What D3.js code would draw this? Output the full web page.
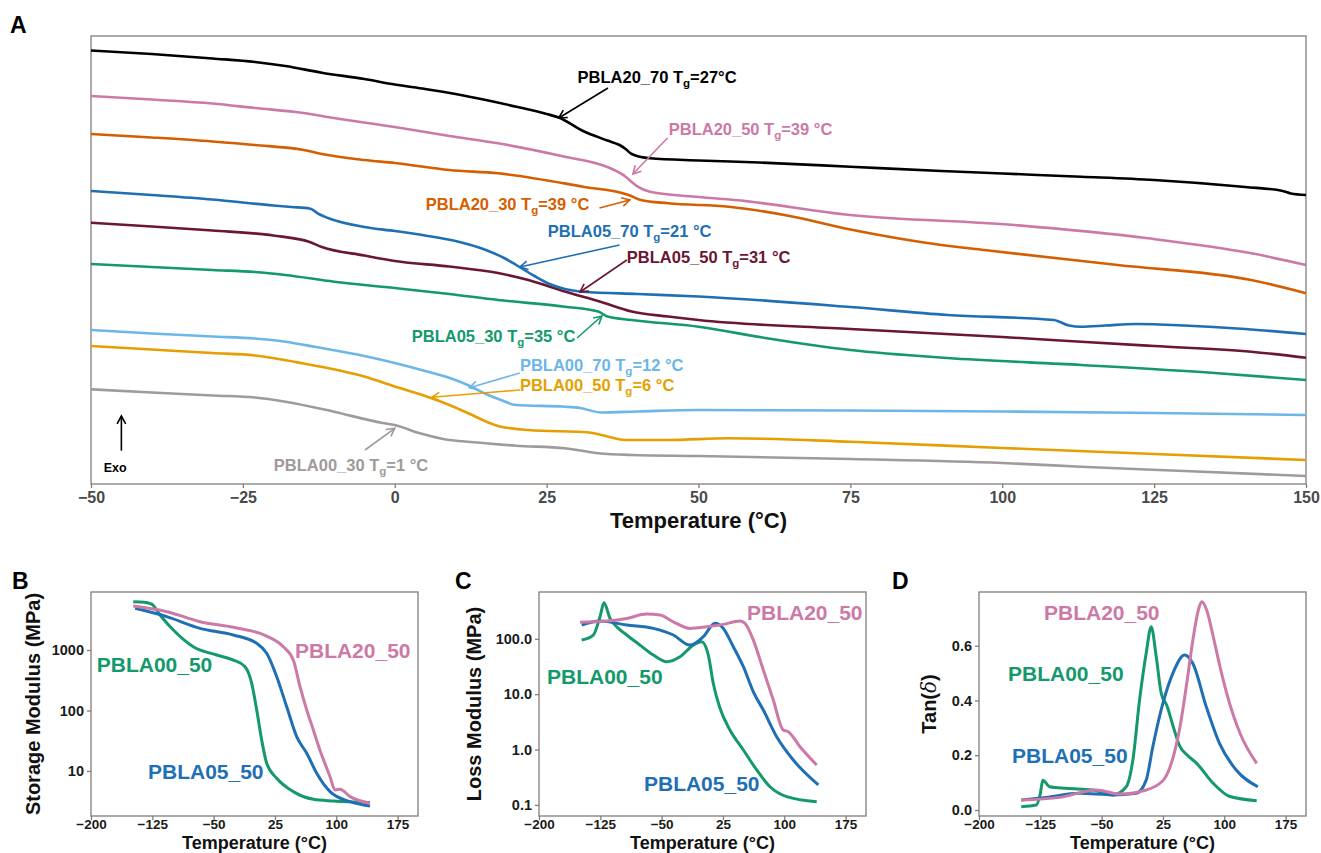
<!DOCTYPE html>
<html><head><meta charset="utf-8">
<script src="https://cdn.jsdelivr.net/npm/d3@7"></script>
<style>body{margin:0;background:#fff}</style>
</head><body>
<svg id="c" width="1321" height="853"></svg>
<script>
// ---------------- DATA ----------------
// Panel A: DSC traces, [temperature °C, heat flow (a.u., offset)]
const seriesNames = ["PBLA20_70","PBLA20_50","PBLA20_30","PBLA05_70","PBLA05_50","PBLA05_30","PBLA00_70","PBLA00_50","PBLA00_30"];
const tgValues = [27,39,39,21,31,35,12,6,1];
const tgSuffix = ["=27°C","=39 °C","=39 °C","=21 °C","=31 °C","=35 °C","=12 °C","=6 °C","=1 °C"];

const dsc_PBLA20_70 = [[-50,433.5],[-40,430],[-30,425.5],[-23,422],[-18,418],[-12,411.3],[-5,405],[0,399.5],[5,395],[10,390],[15,384],[20,377.3],[25,370],[27,366.5],[31,353],[35,343.5],[37,339],[38,335],[39,330],[42,325.7],[50,323.5],[60,321.5],[75,317.3],[90,313],[100,310.5],[113,307.3],[125,304],[140,297],[146,293.3],[147.5,290.5],[150,289]];
const dsc_PBLA20_50 = [[-50,388],[-40,384.5],[-30,380.5],[-23,376],[-15,371],[-10,366],[0,357],[9,348],[17,340.7],[28,327.3],[35,317],[38,307.3],[39,302],[40,297.3],[42,292.3],[50,287],[56,284],[75,269],[102,259],[124,245.7],[141,230.7],[150,219]];
const dsc_PBLA20_30 = [[-50,350],[-40,346.5],[-30,342.5],[-23,339],[-15,334],[-12,330],[-5,324],[0,321],[9,314],[17,310.7],[31,297.3],[38.5,289],[40.5,284],[45,280.7],[55,277.3],[65,268],[75,254.5],[90,239],[97,234],[119,219],[141,204],[150,190.7]];
const dsc_PBLA05_70 = [[-50,293],[-40,289],[-30,284.5],[-20,278.5],[-17,277],[-14,275.5],[-12.5,270],[-11,266],[-5,257],[0,253],[5,248.5],[10,243],[15,234],[18,226],[20,219],[23,208],[25.5,200],[28,195],[31,192.3],[40,190],[50,187.5],[75,177],[91,169],[108.5,164],[109.5,162],[111,158.5],[113,157.3],[117,158.5],[122,160],[130,158.5],[140,155],[150,150]];
const dsc_PBLA05_50 = [[-50,261.3],[-40,257.5],[-30,253.5],[-20,248.5],[-14,242],[-12,237],[-5,228.5],[0,223],[9,217.5],[17,211],[22,204],[28,192.5],[34,182],[39,172.5],[45,167.5],[50,164],[75,155],[100,147],[113,142.3],[125,138],[141,132.3],[150,126.3]];
const dsc_PBLA05_30 = [[-50,220],[-40,217],[-30,214],[-23,212],[-18,209],[-10,202.3],[0,196],[9,190],[17,184],[28,177.3],[33.5,172.5],[35,167.5],[39,164],[50,157.3],[61,146],[75,134],[91,126],[113,119],[135,111],[150,104]];
const dsc_PBLA00_70 = [[-50,154],[-40,150.5],[-30,147.5],[-23,145.5],[-18,142.3],[-13,137],[-5,128],[0,121],[5,113],[10,104],[12,99],[15,90],[17.5,84],[20,79],[28,77.3],[30.5,76],[34,71.5],[40,72.5],[50,74],[75,73.5],[100,72.5],[125,71],[150,69]];
const dsc_PBLA00_50 = [[-50,138],[-40,134.5],[-30,131],[-23,128.5],[-15,120.5],[-5,107.5],[0,97.5],[5,88],[9,79],[12,71],[17,58],[22,54],[32,51.5],[34,49],[38,44],[45,44],[55,45.7],[75,42.3],[100,36],[125,30],[150,24]];
const dsc_PBLA00_30 = [[-50,94.7],[-40,91.5],[-30,88.5],[-23,86.5],[-18,82.3],[-10,72.3],[-2,61],[0,59],[4,51],[9,44],[12,42.3],[20,38.3],[28,35.7],[30,34],[33.5,30.7],[39,29],[50,28],[75,25],[100,21],[113,17.3],[130,13],[150,8]];

const dscTicks = [-50,-25,0,25,50,75,100,125,150];

// Panel B: storage modulus (MPa)
const dmaNames = ["PBLA00_50","PBLA05_50","PBLA20_50"];
const storage_PBLA00_50 = [[-148.3,6280],[-135,6150],[-125.8,5750],[-115.6,3800],[-99.3,2140],[-74.9,1135],[-46.3,826],[-25.9,683],[-11.6,530],[-3.4,281],[2.7,102],[8.8,32.5],[14.9,13.4],[27.2,7.57],[47.5,4.55],[72,3.4],[96.4,3.19],[141.3,3.0]];
const storage_PBLA05_50 = [[-146,4890],[-107.4,3560],[-66.7,2280],[-25.9,1770],[2.7,1290],[14.9,881],[27.2,362],[39.4,115],[51.6,36.9],[63.9,19.6],[76.1,9.16],[92.4,4.55],[116.8,3.11],[141.3,2.64]];
const storage_PBLA20_50 = [[-148.3,5330],[-107,4300],[-66.7,2940],[-25.9,2370],[14.9,1700],[35.2,1135],[47.5,683],[55.7,247],[63.9,102],[72,47.6],[80.1,22],[92.4,8.05],[98.5,4.85],[104.6,5.0],[116.8,3.76],[141.3,2.93]];
const storageTicks = [10,100,1000];

// Panel C: loss modulus (MPa)
const loss_PBLA00_50 = [[-147.8,95],[-133.6,117],[-125.4,250],[-120.5,447],[-113.1,233],[-105,165],[-92.7,117],[-76.5,77],[-60.1,50.8],[-43.8,38.5],[-27.5,47.3],[-11.2,77],[-1,88],[7.1,50.8],[13.2,15.6],[21.4,5.55],[33.6,2.25],[50,0.98],[66.3,0.427],[82.6,0.213],[103,0.141],[139.7,0.114]];
const loss_PBLA05_50 = [[-147.8,177],[-125.4,209],[-92.7,177],[-60.1,154],[-35.7,117],[-15.3,77],[1,109],[15.3,190],[25.5,154],[37.7,71.8],[50,31.3],[62.2,11],[74.4,5.16],[90.7,1.7],[111.1,0.645],[141.7,0.229]];
const loss_PBLA20_50 = [[-149.8,198],[-117.2,209],[-92.7,233],[-68.3,279],[-52,268],[-35.7,203],[-15.3,154],[5.1,165],[25.5,182],[45.9,209],[52,190],[62.2,94.8],[74.4,27.2],[86.6,7.83],[98.8,2.25],[104.9,2.1],[119.3,1.12],[139.7,0.525]];
const lossTicks = [0.1,1,10,100];

// Panel D: tan delta
const tan_PBLA00_50 = [[-148.3,0.012],[-130,0.018],[-125,0.06],[-121.9,0.109],[-113.7,0.085],[-93.3,0.079],[-60.7,0.073],[-36.3,0.055],[-19.9,0.085],[-11.8,0.182],[-3.6,0.401],[4.5,0.572],[10.6,0.669],[16.8,0.56],[22.9,0.426],[30,0.38],[38,0.3],[45.9,0.231],[55,0.2],[66.3,0.17],[86.6,0.097],[107,0.049],[139.7,0.034]];
const tan_PBLA05_50 = [[-148.3,0.036],[-117.8,0.046],[-77,0.061],[-36.3,0.055],[-7.7,0.061],[4.5,0.109],[12.6,0.231],[24.9,0.389],[37.1,0.499],[51.5,0.566],[61.6,0.535],[78,0.377],[94.2,0.243],[114.6,0.146],[141.1,0.085]];
const tan_PBLA20_50 = [[-148.3,0.036],[-101,0.046],[-56.3,0.073],[-27.5,0.058],[4.5,0.073],[25.5,0.109],[37.7,0.195],[45.9,0.304],[54.1,0.462],[62.2,0.632],[68.3,0.73],[72.4,0.76],[78.5,0.73],[86.6,0.632],[94.8,0.523],[103,0.426],[119.3,0.28],[139.7,0.17]];
const tanTicks = [0,0.2,0.4,0.6];

const dmaTempTicks = [-200,-125,-50,25,100,175];

// ---------------- STYLE / LAYOUT ----------------
const FONT = "'Liberation Sans', Arial, Helvetica, sans-serif";
const FRAME = "#857b7b";
const dscColors = ["#000000","#cc79a7","#d55e00","#1f6fb4","#6b1634","#13996b","#6cb6e8","#e69f00","#a09a9a"];
const dmaColors = {PBLA00_50:"#13996b", PBLA05_50:"#1f6fb4", PBLA20_50:"#cc79a7"};

const svg = d3.select("#c").style("font-family", FONT);

function frameAndAxes(g, x, y, xTicks, xFmt, yTicks, yFmt, opts) {
  const [x0,x1] = x.range(), [y0,y1] = y.range();
  g.append("rect").attr("x",x0).attr("y",y1).attr("width",x1-x0).attr("height",y0-y1)
    .attr("fill","none").attr("stroke",FRAME).attr("stroke-width",1.3);
  const ax = g.append("g").attr("transform",`translate(0,${y0})`)
    .call(d3.axisBottom(x).tickValues(xTicks).tickFormat(xFmt).tickSize(4).tickPadding(opts.xPad).tickSizeOuter(0));
  ax.select(".domain").remove();
  ax.selectAll("line").attr("stroke",FRAME).attr("stroke-width",1.3);
  ax.selectAll("text").attr("font-family",FONT).attr("font-weight","bold").attr("font-size",opts.tickFont).attr("fill",opts.tickColor);
  if (yTicks) {
    const ay = g.append("g").attr("transform",`translate(${x0},0)`)
      .call(d3.axisLeft(y).tickValues(yTicks).tickFormat(yFmt).tickSize(4).tickPadding(3).tickSizeOuter(0));
    ay.select(".domain").remove();
    ay.selectAll("line").attr("stroke",FRAME).attr("stroke-width",1.3);
    ay.selectAll("text").attr("font-family",FONT).attr("font-weight","bold").attr("font-size",opts.yTickFont || opts.tickFont).attr("fill",opts.tickColor);
  }
}

function arrow(g, x1, y1, x2, y2, color, w) {
  g.append("line").attr("x1",x1).attr("y1",y1).attr("x2",x2).attr("y2",y2)
    .attr("stroke",color).attr("stroke-width",w);
  const a = Math.atan2(y2-y1, x2-x1), L = 9, s = 0.5;
  const p = [[x2 - L*Math.cos(a-s), y2 - L*Math.sin(a-s)],[x2,y2],[x2 - L*Math.cos(a+s), y2 - L*Math.sin(a+s)]];
  g.append("path").attr("d", d3.line()(p)).attr("fill","none").attr("stroke",color).attr("stroke-width",w)
    .attr("stroke-linejoin","miter");
}

// ---------------- PANEL A ----------------
const gA = svg.append("g");
const xA = d3.scaleLinear().domain([-50,150]).range([91,1306]);
const yA = d3.scaleLinear().domain([0,448]).range([484,36]);
frameAndAxes(gA, xA, yA, dscTicks, d3.format("d"), null, null, {xPad:4, tickFont:"16px", tickColor:"#4a4a4a"});

const dscData = [dsc_PBLA20_70,dsc_PBLA20_50,dsc_PBLA20_30,dsc_PBLA05_70,dsc_PBLA05_50,dsc_PBLA05_30,dsc_PBLA00_70,dsc_PBLA00_50,dsc_PBLA00_30];
const lineA = d3.line().x(d=>xA(d[0])).y(d=>yA(d[1])).curve(d3.curveMonotoneX);
dscData.slice().reverse().forEach((d,i) => {
  const idx = dscData.length-1-i;
  gA.append("path").attr("d", lineA(d)).attr("fill","none").attr("stroke",dscColors[idx])
    .attr("stroke-width",2.6).attr("stroke-linejoin","round");
});

// annotation layout (data coordinates): label start, arrow tail, arrow head
const dscLabelLayout = [
  {t:30.1, v:401.3, a:[35.1,396, 27,366]},
  {t:45.1, v:349,   a:[44.9,346, 39.2,310]},
  {t:5.1,  v:274,   a:[33.7,276, 38.7,284]},
  {t:25.2, v:247,   a:[37,239, 20.6,217]},
  {t:38.2, v:221,   a:[38.2,224, 30.5,192]},
  {t:2.8,  v:142.3, a:[30,146, 34.1,168]},
  {t:20.6, v:113.3, a:[20.6,111, 12.3,96.3]},
  {t:20.6, v:93.3,  a:[20.6,94, 6.1,86.7]},
  {t:-19.9,v:13.3,  a:[-4.9,34, 0,55.7]}
];
seriesNames.forEach((n,i) => {
  const L = dscLabelLayout[i], c = dscColors[i];
  const t = gA.append("text").attr("x",xA(L.t)).attr("y",yA(L.v))
    .attr("font-size","16.5px").attr("font-weight","bold").attr("fill",c);
  t.append("tspan").text(n + " T");
  t.append("tspan").text("g").attr("font-size","11.5px").attr("dy",4);
  t.append("tspan").text(tgSuffix[i]).attr("dy",-4);
  arrow(gA, xA(L.a[0]), yA(L.a[1]), xA(L.a[2]), yA(L.a[3]), c, 1.6);
});
// Exo arrow
arrow(gA, xA(-45), yA(33.3), xA(-45), yA(68), "#000", 1.6);
gA.append("text").attr("x",xA(-47.9)).attr("y",yA(12)).attr("font-size","12.5px").attr("font-weight","bold").text("Exo");

gA.append("text").attr("x",(91+1306)/2).attr("y",528).attr("text-anchor","middle")
  .attr("font-size","22px").attr("font-weight","bold").attr("fill","#111").text("Temperature (°C)");
svg.append("text").attr("x",10).attr("y",33).attr("font-size","23px").attr("font-weight","bold").text("A");

// ---------------- PANELS B, C, D ----------------
const panels = [
  {letter:"B", lx:12, x0:91, scaleType:"log", dom:[1.8,9100], ticks:storageTicks, fmt:d3.format("d"),
   data:{PBLA00_50:storage_PBLA00_50, PBLA05_50:storage_PBLA05_50, PBLA20_50:storage_PBLA20_50},
   title:"Storage Modulus (MPa)", titleX:40,
   labels:{PBLA00_50:[-193,437], PBLA20_50:[49.5,738], PBLA05_50:[-130.3,7.38]}},
  {letter:"C", lx:455, x0:539, scaleType:"log", dom:[0.063,700], ticks:lossTicks, fmt:d3.format(".1f"),
   data:{PBLA00_50:loss_PBLA00_50, PBLA05_50:loss_PBLA05_50, PBLA20_50:loss_PBLA20_50},
   title:"Loss Modulus (MPa)", titleX:481,
   labels:{PBLA20_50:[54.4,217.5], PBLA00_50:[-190.2,15.2], PBLA05_50:[-71.6,0.178]}},
  {letter:"D", lx:892, x0:979, scaleType:"lin", dom:[-0.022,0.796], ticks:tanTicks, fmt:d3.format(".1f"),
   data:{PBLA00_50:tan_PBLA00_50, PBLA05_50:tan_PBLA05_50, PBLA20_50:tan_PBLA20_50},
   title:null, titleX:936,
   labels:{PBLA20_50:[-120.5,0.693], PBLA00_50:[-164.5,0.472], PBLA05_50:[-159.6,0.172]}}
];

panels.forEach(P => {
  const g = svg.append("g");
  const x = d3.scaleLinear().domain([-200,200]).range([P.x0, P.x0+327]);
  const y = (P.scaleType==="log" ? d3.scaleLog() : d3.scaleLinear()).domain(P.dom).range([816,592]);
  frameAndAxes(g, x, y, dmaTempTicks, d3.format("d"), P.ticks, P.fmt, {xPad:-0.5, tickFont:"13.5px", yTickFont:"14.5px", tickColor:"#1a1a1a"});
  const line = d3.line().x(d=>x(d[0])).y(d=>y(d[1])).curve(d3.curveMonotoneX);
  ["PBLA00_50","PBLA05_50","PBLA20_50"].forEach(n => {
    g.append("path").attr("d", line(P.data[n])).attr("fill","none").attr("stroke",dmaColors[n])
      .attr("stroke-width",3).attr("stroke-linejoin","round");
  });
  dmaNames.forEach(n => {
    const L = P.labels[n];
    g.append("text").attr("x",x(L[0])).attr("y",y(L[1])).attr("font-size","21px")
      .attr("font-weight","bold").attr("fill",dmaColors[n]).text(n);
  });
  g.append("text").attr("x",P.x0+163.5).attr("y",848.5).attr("text-anchor","middle")
    .attr("font-size","18px").attr("font-weight","bold").attr("fill","#111").text("Temperature (°C)");
  const yt = g.append("text").attr("transform",`translate(${P.titleX},704) rotate(-90)`).attr("text-anchor","middle")
    .attr("font-size","20px").attr("font-weight","bold").attr("fill","#111");
  if (P.title) yt.text(P.title);
  else {
    yt.append("tspan").text("Tan(");
    yt.append("tspan").text("δ").attr("font-family","'DejaVu Serif', serif").attr("font-weight","normal").attr("font-style","italic");
    yt.append("tspan").text(")");
  }
  svg.append("text").attr("x",P.lx).attr("y",589).attr("font-size","23px").attr("font-weight","bold").text(P.letter);
});
</script>
</body></html>
